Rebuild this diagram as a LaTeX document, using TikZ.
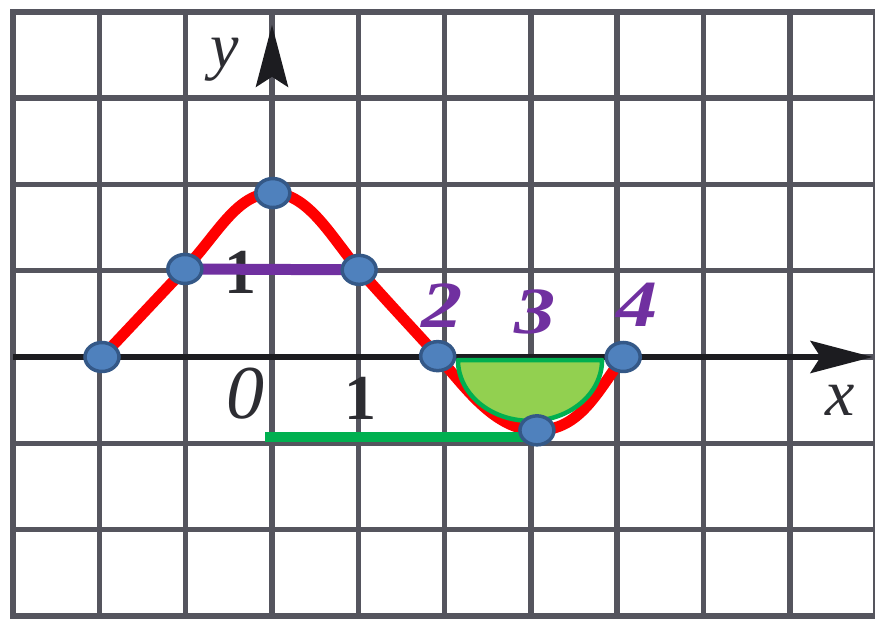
\documentclass[tikz,border=0pt]{standalone}
\usepackage{fontspec}
\setmainfont{Liberation Serif}
\usetikzlibrary{arrows.meta,shapes.geometric}
\definecolor{gridc}{RGB}{85,85,94}
\definecolor{axisc}{RGB}{28,28,32}
\definecolor{curvered}{RGB}{255,0,0}
\definecolor{purp}{RGB}{112,48,160}
\definecolor{grn}{RGB}{0,176,80}
\definecolor{lgrn}{RGB}{146,208,80}
\definecolor{dotfill}{RGB}{79,129,189}
\definecolor{dotline}{RGB}{52,88,135}
\definecolor{txt}{RGB}{45,45,50}
\begin{document}
\begin{tikzpicture}[x=86.3pt,y=86.3pt,
  gridline/.style={draw=gridc,line width=5.5pt,line cap=rect},
  axisline/.style={draw=axisc,line width=6pt},
  axistip/.style={-{Stealth[length=62pt,width=32pt,inset=10pt,color=axisc]}},
  redcurve/.style={draw=curvered,line width=11pt,line cap=round,line join=round},
  purpline/.style={draw=purp,line width=11pt},
  grnline/.style={draw=grn,line width=10pt},
  bowl/.style={draw=grn,fill=lgrn,line width=4.5pt,line join=round},
  dot/.style={ellipse,draw=dotline,fill=dotfill,line width=3.5pt,minimum width=34pt,minimum height=29pt,inner sep=0pt},
  lbl/.style={text=txt,inner sep=0pt,font=\fontsize{64}{64}\selectfont},
  numlbl/.style={text=purp,inner sep=0pt,font=\fontsize{66}{66}\selectfont\bfseries\itshape}]
\useasboundingbox (-3.152,-3.036) rectangle (6.988,4.137);
\fill[white] (-3.152,-3.036) rectangle (6.988,4.137);
% grid
\begin{scope}
\clip (-3.152,-3.036) rectangle (6.988,4.137);
\foreach \i in {-3,...,7} \draw[gridline] (\i,-3) -- (\i,4);
\foreach \j in {-3,...,4} \draw[gridline] (-3,\j) -- (7.2,\j);
\end{scope}
% axes
\coordinate (xs) at (-3,0);
\coordinate (xe) at (6.96,0);
\coordinate (ys) at (0,3.0);
\coordinate (ye) at (0,3.85);
\draw[axisline,axistip] (xs) -- (xe);
\draw[draw=gridc,line width=5.5pt,axistip] (ys) -- (ye);
% axis labels
\node[lbl,font=\fontsize{64}{64}\selectfont\itshape] (ly) at (-0.545,3.44) {y};
\node[lbl,font=\fontsize{66}{66}\selectfont\itshape] (lx) at (6.58,-0.50) {x};
\node[lbl,font=\fontsize{76}{76}\selectfont\itshape] (l0) at (-0.31,-0.43) {0};
\node[lbl,font=\fontsize{64}{64}\selectfont\bfseries] (l1x) at (1.02,-0.48) {1};
\node[lbl,font=\fontsize{64}{64}\selectfont\bfseries] (l1y) at (-0.37,0.98) {1};
% curve points
\coordinate (pA) at (-1.97,0);
\coordinate (pB) at (-1.01,1.02);
\coordinate (pC) at (0.01,1.90);
\coordinate (pD) at (1.01,1.01);
\coordinate (pE) at (1.92,0.01);
\coordinate (pF) at (3.07,-0.85);
\coordinate (pG) at (4.07,0);
\draw[redcurve] (pA) -- (pB)
  .. controls +(0.38,0.40) and +(-0.42,0) .. (pC)
  .. controls +(0.42,0) and +(-0.30,0.34) .. (pD)
  .. controls +(0.30,-0.34) and +(-0.30,0.33) .. (pE)
  .. controls +(0.30,-0.33) and +(-0.50,0) .. (pF)
  .. controls +(0.50,0) and +(-0.30,-0.40) .. (pG);
% purple and green segments
\draw[purpline] (pB) -- (pD);
\coordinate (g1) at (-0.08,-0.93);
\coordinate (g2) at (3.0,-0.93);
\draw[grnline] (g1) -- (g2);
% half bowl
\coordinate (h1) at (2.155,-0.035);
\coordinate (h2) at (3.825,-0.035);
\draw[bowl] (h1) -- (h2) arc[start angle=0,end angle=-180,x radius=0.835,y radius=0.705] -- cycle;
% dots
\node[dot] (A) at (pA) {};
\node[dot] (B) at (pB) {};
\node[dot] (C) at (pC) {};
\node[dot] (D) at (pD) {};
\node[dot] (E) at (pE) {};
\node[dot] (F) at (pF) {};
\node[dot] (G) at (pG) {};
% numbers
\node[numlbl] (n2) at (1.97,0.60) {\scalebox{1.25}[1]{2}};
\node[numlbl] (n3) at (3.05,0.52) {\scalebox{1.25}[1]{3}};
\node[numlbl] (n4) at (4.23,0.61) {\scalebox{1.25}[1]{4}};
\end{tikzpicture}
\end{document}
